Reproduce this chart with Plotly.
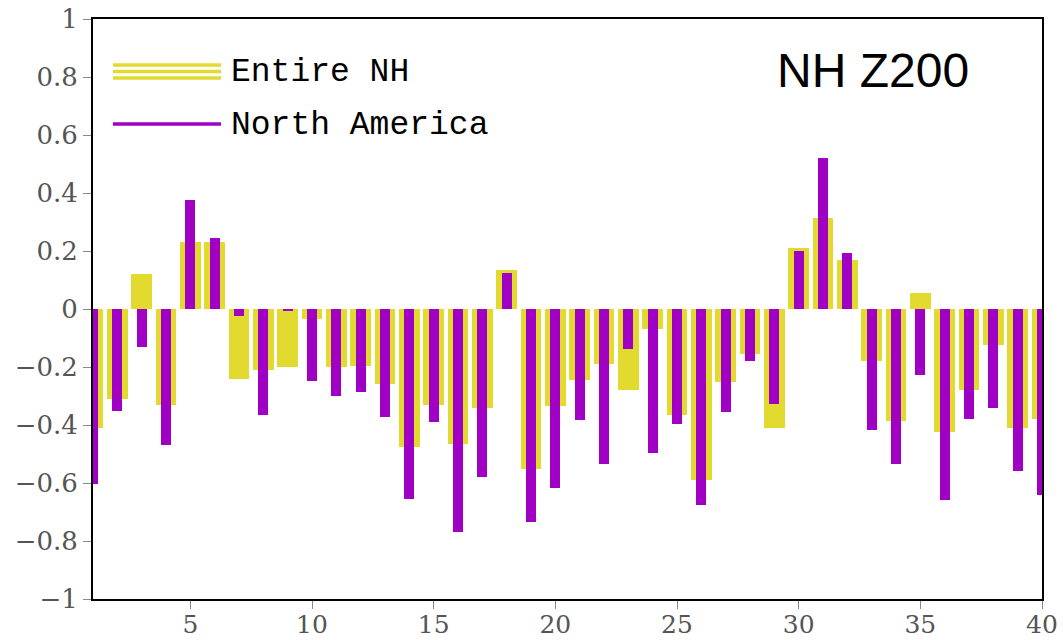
import plotly.graph_objects as go

# Lag index 1..40
lags = list(range(1, 41))

# Correlation for the whole Northern Hemisphere
entire_nh = [
    -0.41, -0.31, 0.12, -0.33, 0.23, 0.23, -0.24, -0.21, -0.20, -0.035,
    -0.20, -0.195, -0.26, -0.475, -0.33, -0.465, -0.34, 0.135, -0.55, -0.335,
    -0.245, -0.19, -0.28, -0.07, -0.365, -0.59, -0.25, -0.155, -0.41, 0.21,
    0.315, 0.17, -0.18, -0.385, 0.055, -0.425, -0.28, -0.125, -0.41, -0.38,
]

# Correlation for the North America sector
north_america = [
    -0.605, -0.352, -0.13, -0.468, 0.375, 0.245, -0.024, -0.366, -0.006, -0.247,
    -0.30, -0.287, -0.374, -0.654, -0.39, -0.77, -0.58, 0.123, -0.735, -0.617,
    -0.382, -0.534, -0.139, -0.495, -0.398, -0.676, -0.356, -0.178, -0.326, 0.199,
    0.522, 0.192, -0.418, -0.533, -0.226, -0.658, -0.379, -0.343, -0.557, -0.642,
]

y_ticks = [-1, -0.8, -0.6, -0.4, -0.2, 0, 0.2, 0.4, 0.6, 0.8, 1]
y_labels = ["\u22121", "\u22120.8", "\u22120.6", "\u22120.4", "\u22120.2", "0",
            "0.2", "0.4", "0.6", "0.8", "1"]
x_ticks = [5, 10, 15, 20, 25, 30, 35, 40]

YELLOW = "#E3DA2F"
PURPLE = "#A000C4"

fig = go.Figure()
fig.add_trace(go.Bar(x=lags, y=entire_nh, width=0.85, name="Entire NH",
                     marker=dict(color=YELLOW, line=dict(width=0))))
fig.add_trace(go.Bar(x=lags, y=north_america, width=0.4, name="North America",
                     marker=dict(color=PURPLE, line=dict(width=0))))

tick_font = dict(family="DejaVu Serif", size=26, color="#555555")

fig.update_layout(
    width=1064, height=640,
    margin=dict(l=93, r=22, t=19, b=41),
    paper_bgcolor="white", plot_bgcolor="white",
    barmode="overlay", bargap=0, showlegend=False,
    xaxis=dict(range=[1, 40], tickvals=x_ticks, ticks="outside", ticklen=8,
               tickcolor="#888888", tickwidth=1,
               tickfont=dict(family="DejaVu Serif", size=25, color="#555555"),
               ticklabelstandoff=-6, automargin=False,
               showgrid=False, zeroline=False, showline=True, linecolor="black",
               linewidth=2, mirror=True),
    yaxis=dict(range=[-1, 1], tickvals=y_ticks, ticktext=y_labels,
               ticks="outside", ticklen=8, tickcolor="#888888", tickwidth=1,
               tickfont=tick_font, automargin=False, showgrid=False,
               zeroline=False, showline=True, linecolor="black", linewidth=2,
               mirror=True),
)

# Legend keys drawn in paper space
def px_x(p):
    return (p - 93) / (1064 - 93 - 22)

def px_y(p):
    return 1 - (p - 19) / (640 - 19 - 41)

for yy in (65, 71.5, 78):
    fig.add_shape(type="line", xref="paper", yref="paper",
                  x0=px_x(113), x1=px_x(221), y0=px_y(yy), y1=px_y(yy),
                  line=dict(color=YELLOW, width=3.5))
fig.add_shape(type="line", xref="paper", yref="paper",
              x0=px_x(113), x1=px_x(221), y0=px_y(124), y1=px_y(124),
              line=dict(color=PURPLE, width=3.5))

legend_font = dict(family="Liberation Mono", size=33, color="black")
fig.add_annotation(x=px_x(229), y=px_y(72), xref="paper", yref="paper",
                   text="Entire NH", showarrow=False, xanchor="left",
                   yanchor="middle", font=legend_font)
fig.add_annotation(x=px_x(229), y=px_y(125), xref="paper", yref="paper",
                   text="North America", showarrow=False, xanchor="left",
                   yanchor="middle", font=legend_font)

fig.add_annotation(x=px_x(873), y=px_y(71), xref="paper", yref="paper",
                   text="NH Z200", showarrow=False, xanchor="center",
                   yanchor="middle",
                   font=dict(family="Liberation Sans", size=48, color="black"))

fig.write_html("out.html")
